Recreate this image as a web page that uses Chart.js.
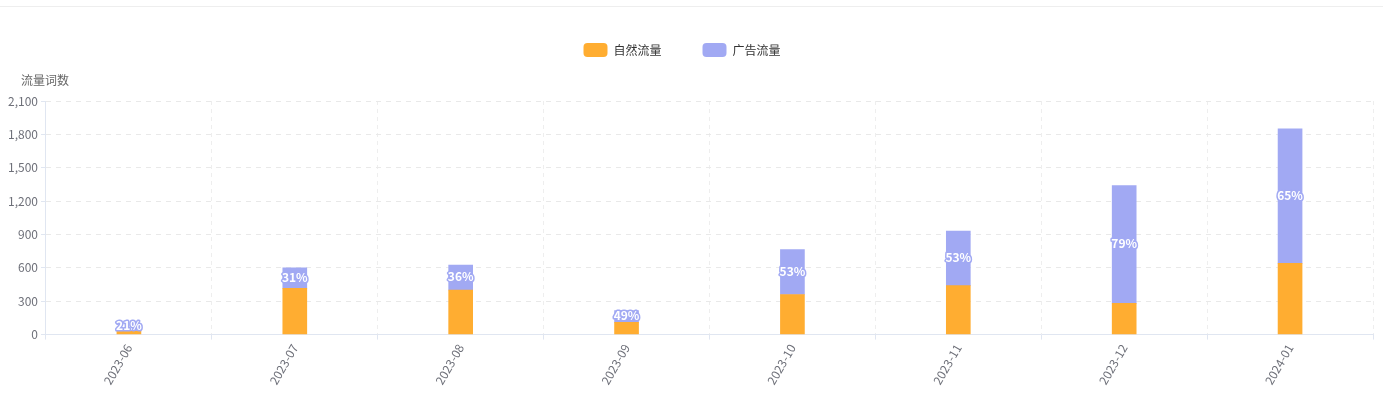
<!DOCTYPE html>
<html>
<head>
<meta charset="utf-8">
<script src="https://cdn.jsdelivr.net/npm/chart.js@4"></script>
<style>
    html, body { margin: 0; padding: 0; background: #fff; }
    .top-line { position: absolute; left: 0; top: 6px; width: 1383px; height: 0; border-top: 1px solid #eeeeee; }
    .chart-box { position: absolute; left: 0; top: 0; width: 1383px; height: 414px; }
</style>
</head>
<body>
<div class="top-line"></div>
<div class="chart-box"><canvas id="traffic-chart"></canvas></div>
<script>
const months = ['2023-06', '2023-07', '2023-08', '2023-09', '2023-10', '2023-11', '2023-12', '2024-01'];
const naturalTraffic = [30, 415, 400, 110, 360, 440, 280, 640];
const adTraffic = [8, 185, 225, 105, 405, 490, 1060, 1210];
const yTicks = [0, 300, 600, 900, 1200, 1500, 1800, 2100];
const seriesNames = ['自然流量', '广告流量'];
const seriesColors = ['#ffad31', '#a1a9f3'];
const axisTitle = '流量词数';

const fontFamily = '"Noto Sans CJK SC", "Microsoft YaHei", sans-serif';
const textColor = '#6e7079';

// legend, y-axis title and percentage labels are drawn by hand
const decorPlugin = {
    id: 'decor',
    afterDatasetsDraw(chart) {
        const ctx = chart.ctx;
        const meta = chart.getDatasetMeta(1);
        ctx.save();
        ctx.font = 'bold 12px ' + fontFamily;
        ctx.textAlign = 'center';
        ctx.textBaseline = 'middle';
        ctx.lineJoin = 'round';
        meta.data.forEach((bar, i) => {
            const total = naturalTraffic[i] + adTraffic[i];
            const text = Math.round(adTraffic[i] / total * 100) + '%';
            const y = Math.min((bar.y + bar.base) / 2 - 1, bar.base - 5.5);
            ctx.lineWidth = 3;
            ctx.strokeStyle = seriesColors[1];
            ctx.strokeText(text, bar.x, y);
            ctx.fillStyle = '#ffffff';
            ctx.fillText(text, bar.x, y);
        });
        ctx.restore();
    },
    afterDraw(chart) {
        const ctx = chart.ctx;
        ctx.save();
        ctx.font = '12px ' + fontFamily;
        ctx.textBaseline = 'middle';
        ctx.textAlign = 'left';

        ctx.fillStyle = '#666666';
        ctx.fillText(axisTitle, 21, 80);

        const boxW = 24, boxH = 14, gap = 6, spacing = 41;
        const widths = seriesNames.map(n => ctx.measureText(n).width);
        const total = widths.reduce((s, w) => s + boxW + gap + w, 0) + spacing * (seriesNames.length - 1);
        let x = 682 - total / 2;
        const y = 50;
        seriesNames.forEach((name, i) => {
            ctx.fillStyle = seriesColors[i];
            ctx.beginPath();
            ctx.roundRect(x, y - boxH / 2, boxW, boxH, 4);
            ctx.fill();
            ctx.fillStyle = '#333333';
            ctx.fillText(name, x + boxW + gap, y);
            x += boxW + gap + widths[i] + spacing;
        });
        ctx.restore();
    }
};

new Chart(document.getElementById('traffic-chart'), {
    type: 'bar',
    data: {
        labels: months,
        datasets: [
            { label: seriesNames[0], data: naturalTraffic, backgroundColor: seriesColors[0], barThickness: 24 },
            { label: seriesNames[1], data: adTraffic, backgroundColor: seriesColors[1], barThickness: 24 }
        ]
    },
    options: {
        responsive: true,
        maintainAspectRatio: false,
        animation: false,
        layout: { padding: { top: 101, right: 10, bottom: 25, left: 5 } },
        plugins: {
            legend: { display: false },
            tooltip: { enabled: false }
        },
        scales: {
            x: {
                stacked: true,
                offset: true,
                grid: {
                    offset: true,
                    color: '#eeeeee',
                    borderDash: [4, 4],
                    tickLength: 5,
                    tickColor: '#e0e6f1',
                    tickBorderDash: []
                },
                border: { display: true, color: '#e0e6f1', dash: [4, 4] },
                ticks: {
                    minRotation: 60,
                    maxRotation: 60,
                    color: textColor,
                    font: { family: fontFamily, size: 12 },
                    padding: 2
                }
            },
            y: {
                stacked: true,
                min: 0,
                max: 2100,
                afterBuildTicks: axis => { axis.ticks = yTicks.map(v => ({ value: v })); },
                grid: {
                    color: '#e9e9e9',
                    tickLength: 5,
                    tickColor: '#e0e6f1',
                    tickBorderDash: []
                },
                border: { display: true, color: '#e0e6f1', dash: [5, 5] },
                ticks: {
                    color: textColor,
                    font: { family: fontFamily, size: 12 },
                    padding: 3,
                    callback: v => v.toLocaleString('en-US')
                }
            }
        }
    },
    plugins: [decorPlugin]
});
</script>
</body>
</html>
